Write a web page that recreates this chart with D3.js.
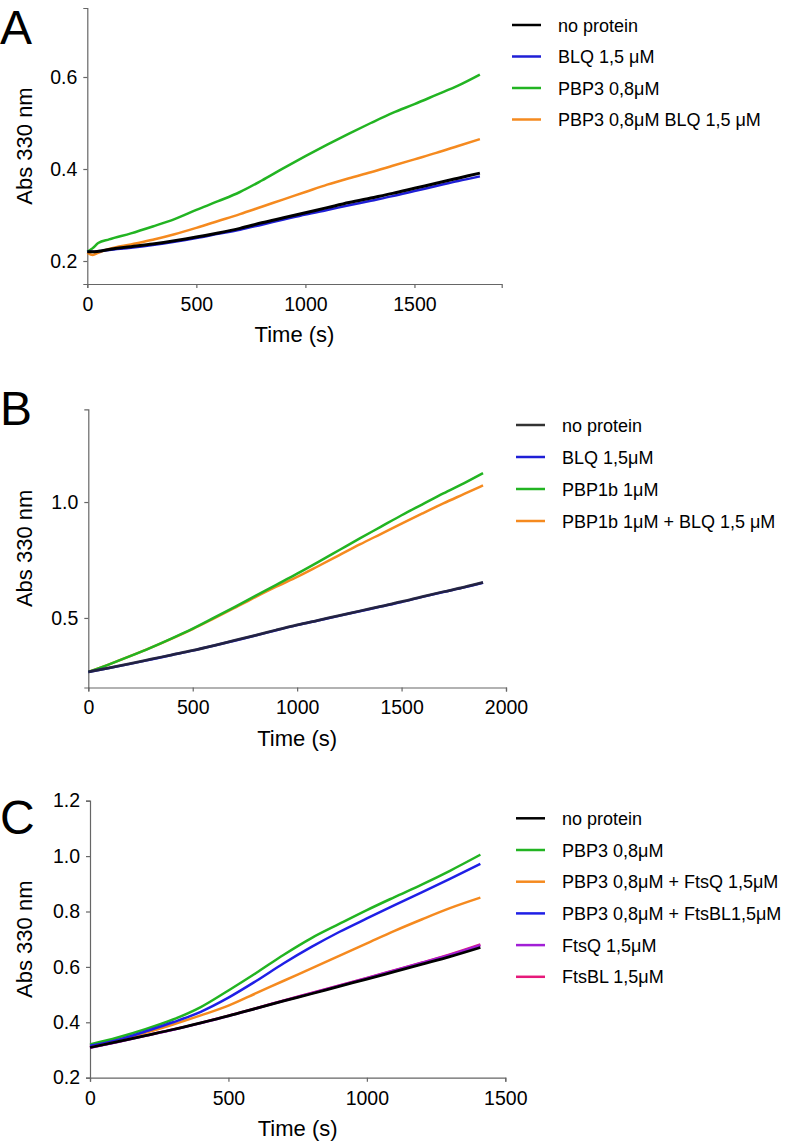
<!DOCTYPE html>
<html>
<head>
<meta charset="utf-8">
<script src="https://cdn.jsdelivr.net/npm/d3@7"></script>
<style>
html,body{margin:0;padding:0;background:#fff;}
svg text{font-family:"Liberation Sans",Arial,sans-serif;fill:#000;}
</style>
</head>
<body>
<svg id="chart" width="800" height="1144"></svg>
<script>
// ---------- Panel A data ----------
const timeA = [0,25,50,100,200,300,400,500,600,700,800,900,1000,1100,1200,1300,1400,1500,1600,1700,1800];
const noProteinA = [0.220,0.220,0.221,0.225,0.231,0.237,0.244,0.252,0.261,0.271,0.283,0.294,0.305,0.316,0.327,0.337,0.347,0.358,0.369,0.380,0.391];
const blqA        = [0.220,0.220,0.221,0.224,0.229,0.235,0.242,0.250,0.259,0.268,0.279,0.290,0.301,0.311,0.321,0.331,0.341,0.352,0.363,0.374,0.384];
const pbp3A       = [0.220,0.228,0.239,0.247,0.260,0.275,0.291,0.311,0.330,0.350,0.375,0.402,0.428,0.453,0.477,0.500,0.522,0.541,0.561,0.581,0.605];
const pbp3BlqA    = [0.218,0.213,0.218,0.226,0.236,0.246,0.258,0.272,0.287,0.302,0.318,0.334,0.350,0.366,0.380,0.393,0.407,0.421,0.435,0.450,0.465];
const labelsA = ["no protein","BLQ 1,5 \u03bcM","PBP3 0,8\u03bcM","PBP3 0,8\u03bcM BLQ 1,5 \u03bcM"];
const xTicksA = [0,500,1000,1500];
const yTicksA = [0.2,0.4,0.6];

// ---------- Panel B data ----------
const timeB = [0,100,200,300,400,500,600,700,800,900,1000,1100,1200,1300,1400,1500,1600,1700,1800,1890];
const noProteinB = [0.267,0.285,0.303,0.322,0.341,0.360,0.381,0.403,0.425,0.448,0.470,0.490,0.510,0.530,0.550,0.570,0.592,0.613,0.633,0.653];
const blqB       = [0.267,0.284,0.302,0.321,0.340,0.359,0.380,0.402,0.424,0.447,0.469,0.489,0.509,0.529,0.549,0.569,0.591,0.612,0.632,0.652];
const pbp1bB     = [0.267,0.300,0.335,0.372,0.412,0.454,0.500,0.547,0.595,0.643,0.691,0.741,0.792,0.843,0.893,0.943,0.990,1.037,1.082,1.125];
const pbp1bBlqB  = [0.267,0.300,0.335,0.372,0.411,0.452,0.497,0.543,0.590,0.635,0.677,0.723,0.770,0.817,0.862,0.907,0.951,0.994,1.035,1.072];
const labelsB = ["no protein","BLQ 1,5\u03bcM","PBP1b 1\u03bcM","PBP1b 1\u03bcM + BLQ 1,5 \u03bcM"];
const xTicksB = [0,500,1000,1500,2000];
const yTicksB = [0.5,1.0];

// ---------- Panel C data ----------
const timeC = [0,100,200,300,400,500,600,700,800,900,1000,1100,1200,1300,1410];
const noProteinC = [0.309,0.330,0.352,0.374,0.398,0.423,0.450,0.477,0.503,0.530,0.556,0.583,0.610,0.637,0.670];
const pbp3C      = [0.320,0.345,0.375,0.410,0.455,0.515,0.578,0.644,0.704,0.755,0.805,0.852,0.898,0.947,1.005];
const pbp3FtsQC  = [0.315,0.338,0.362,0.392,0.425,0.460,0.505,0.550,0.595,0.640,0.685,0.730,0.772,0.812,0.850];
const pbp3FtsBLC = [0.315,0.336,0.367,0.400,0.438,0.489,0.549,0.613,0.672,0.726,0.775,0.823,0.870,0.918,0.972];
const ftsQC      = [0.308,0.329,0.351,0.373,0.397,0.423,0.450,0.478,0.505,0.532,0.559,0.587,0.615,0.643,0.678];
const ftsBLC     = [0.309,0.330,0.352,0.374,0.398,0.424,0.451,0.479,0.506,0.533,0.560,0.588,0.616,0.645,0.681];
const labelsC = ["no protein","PBP3 0,8\u03bcM","PBP3 0,8\u03bcM + FtsQ 1,5\u03bcM","PBP3 0,8\u03bcM + FtsBL1,5\u03bcM","FtsQ 1,5\u03bcM","FtsBL 1,5\u03bcM"];
const xTicksC = [0,500,1000,1500];
const yTicksC = [0.2,0.4,0.6,0.8,1.0,1.2];

const svg = d3.select("#chart");

function drawPanel(p) {
  const g = svg.append("g");
  const x = d3.scaleLinear().domain(p.xDomain).range([p.left, p.right]);
  const y = d3.scaleLinear().domain(p.yDomain).range([p.bottom, p.top]);

  // panel letter
  g.append("text").attr("x", p.letterX).attr("y", p.letterY)
    .attr("font-size", 48).text(p.letter);

  // axes
  const xAxis = d3.axisBottom(x).tickValues(p.xTicks).tickFormat(d3.format("d")).tickSize(4).tickPadding(9);
  const yAxis = d3.axisLeft(y).tickValues(p.yTicks).tickFormat(d3.format(".1f")).tickSize(4).tickPadding(6);
  const gx = g.append("g").attr("transform", `translate(0,${p.bottom})`).call(xAxis);
  const gy = g.append("g").attr("transform", `translate(${p.left},0)`).call(yAxis);
  [gx, gy].forEach(a => {
    a.selectAll("path.domain").attr("stroke", "#666").attr("stroke-width", 1.2);
    a.selectAll(".tick line").attr("stroke", "#666").attr("stroke-width", 1.2);
    a.selectAll(".tick text").attr("font-size", 19.5).attr("font-family", "Liberation Sans, Arial, sans-serif").attr("fill", "#000");
  });

  // axis titles
  g.append("text").attr("x", (p.left + p.right) / 2).attr("y", p.bottom + 58)
    .attr("text-anchor", "middle").attr("font-size", 22).text("Time (s)");
  g.append("text")
    .attr("transform", `translate(${p.yTitleX},${(p.top + p.bottom) / 2}) rotate(-90)`)
    .attr("text-anchor", "middle").attr("font-size", 22).text("Abs 330 nm");

  // lines
  const line = d3.line().curve(d3.curveMonotoneX).x(d => x(d[0])).y(d => y(d[1]));
  p.drawOrder.forEach(i => {
    const s = p.series[i];
    g.append("path")
      .datum(p.time.map((t, k) => [t, s.values[k]]))
      .attr("fill", "none").attr("stroke", s.color)
      .attr("stroke-width", s.width || 2.5)
      .attr("stroke-opacity", s.opacity || 1)
      .attr("stroke-linejoin", "round")
      .attr("d", line);
  });

  // legend
  const lg = g.append("g");
  p.series.forEach((s, i) => {
    const yy = p.legendY + i * p.legendStep;
    lg.append("line").attr("x1", p.legendX).attr("x2", p.legendX + 29)
      .attr("y1", yy).attr("y2", yy).attr("stroke", s.legendColor || s.color).attr("stroke-width", 2.5);
    lg.append("text").attr("x", p.legendX + 46).attr("y", yy + 6.5)
      .attr("font-size", 18).text(p.labels[i]);
  });
}

drawPanel({
  letter: "A", letterX: 0, letterY: 44,
  xDomain: [0, 1900], yDomain: [0.15, 0.75],
  left: 87.3, right: 501.7, top: 8, bottom: 284,
  xTicks: xTicksA, yTicks: yTicksA, yTitleX: 32,
  time: timeA, labels: labelsA,
  series: [
    {values: noProteinA, color: "#000000", width: 3},
    {values: blqA, color: "#1f1fd6"},
    {values: pbp3A, color: "#22b422"},
    {values: pbp3BlqA, color: "#f58a1f"}
  ],
  drawOrder: [3, 2, 1, 0],
  legendX: 512, legendY: 25, legendStep: 31.5
});

drawPanel({
  letter: "B", letterX: 0, letterY: 425,
  xDomain: [0, 2000], yDomain: [0.2, 1.4],
  left: 88.3, right: 506, top: 409.3, bottom: 687.5,
  xTicks: xTicksB, yTicks: yTicksB, yTitleX: 32,
  time: timeB, labels: labelsB,
  series: [
    {values: noProteinB, color: "#222233", width: 2.8, opacity: 0.9, legendColor: "#333333"},
    {values: blqB, color: "#1f1fd6"},
    {values: pbp1bB, color: "#22b422"},
    {values: pbp1bBlqB, color: "#f58a1f"}
  ],
  drawOrder: [3, 2, 1, 0],
  legendX: 516, legendY: 425, legendStep: 32
});

drawPanel({
  letter: "C", letterX: 0, letterY: 834,
  xDomain: [0, 1500], yDomain: [0.2, 1.2],
  left: 90, right: 505.3, top: 800.7, bottom: 1077.7,
  xTicks: xTicksC, yTicks: yTicksC, yTitleX: 32,
  time: timeC, labels: labelsC,
  series: [
    {values: noProteinC, color: "#000000", width: 2.8},
    {values: pbp3C, color: "#22b422"},
    {values: pbp3FtsQC, color: "#f58a1f"},
    {values: pbp3FtsBLC, color: "#1f1fe6"},
    {values: ftsQC, color: "#a21fd6"},
    {values: ftsBLC, color: "#e6197a"}
  ],
  drawOrder: [2, 1, 3, 5, 4, 0],
  legendX: 516, legendY: 818.3, legendStep: 31.7
});
</script>
</body>
</html>
